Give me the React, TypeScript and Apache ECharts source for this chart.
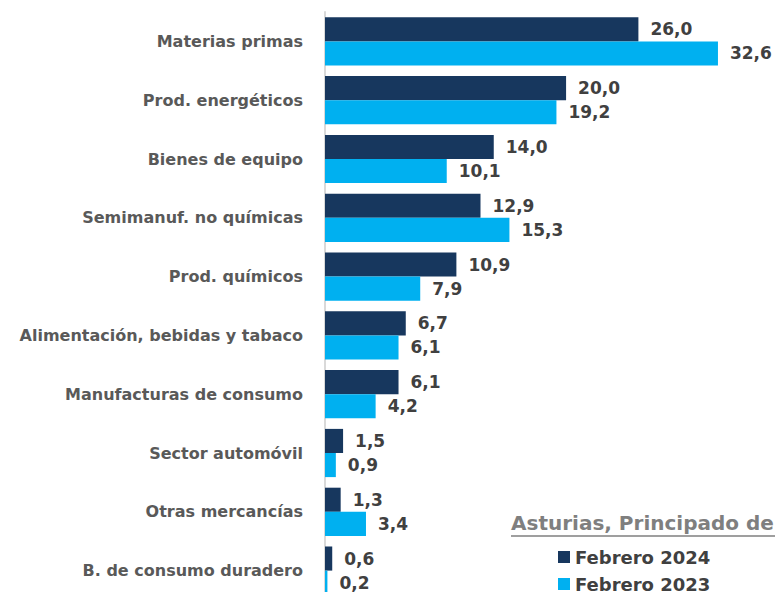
import React, { useEffect, useRef } from "react";
import * as echarts from "echarts";

const categories = [
  "Materias primas",
  "Prod. energéticos",
  "Bienes de equipo",
  "Semimanuf. no químicas",
  "Prod. químicos",
  "Alimentación, bebidas y tabaco",
  "Manufacturas de consumo",
  "Sector automóvil",
  "Otras mercancías",
  "B. de consumo duradero",
];
const feb2024 = [26.0, 20.0, 14.0, 12.9, 10.9, 6.7, 6.1, 1.5, 1.3, 0.6];
const feb2023 = [32.6, 19.2, 10.1, 15.3, 7.9, 6.1, 4.2, 0.9, 3.4, 0.2];
const seriesNames = ["Febrero 2024", "Febrero 2023"];
const legendTitle = "Asturias, Principado de";

const FONT = "'DejaVu Sans', sans-serif";

export default function App() {
  const ref = useRef<HTMLDivElement>(null);
  useEffect(() => {
    document.body.style.margin = "0";
    document.body.style.overflow = "hidden";
    const chart = echarts.init(ref.current!, null, { renderer: "svg" });
    const label = {
      show: true,
      position: "right",
      distance: 12,
      color: "#404040",
      fontFamily: FONT,
      fontWeight: "bold",
      fontSize: 17,
      formatter: (p: any) => p.value.toFixed(1).replace(".", ","),
    };
    const legendText = {
      color: "#404040",
      fontFamily: FONT,
      fontWeight: "bold",
      fontSize: 18,
    };
    chart.setOption({
      animation: false,
      grid: { left: 325, right: 8, top: 12, bottom: 0, containLabel: false },
      xAxis: {
        type: "value",
        min: 0,
        max: 37,
        show: false,
      },
      yAxis: {
        type: "category",
        inverse: true,
        data: categories,
        axisLine: { show: true, lineStyle: { color: "#d9d9d9", width: 2 } },
        axisTick: { show: false },
        axisLabel: {
          color: "#595959",
          fontFamily: FONT,
          fontWeight: "bold",
          fontSize: 16,
          margin: 22,
        },
      },
      legend: [
        {
          orient: "horizontal",
          left: 553,
          top: 543,
          itemWidth: 12,
          itemHeight: 12,
          icon: "rect",
          data: [seriesNames[0]],
          textStyle: legendText,
        },
        {
          orient: "horizontal",
          left: 553,
          top: 570,
          itemWidth: 12,
          itemHeight: 12,
          icon: "rect",
          data: [seriesNames[1]],
          textStyle: legendText,
        },
      ],
      graphic: [
        {
          type: "text",
          left: 511,
          top: 513,
          style: {
            text: legendTitle,
            fill: "#7f7f7f",
            font: `bold 20px ${FONT}`,
          },
        },
        {
          type: "line",
          shape: { x1: 511, y1: 536, x2: 775, y2: 536 },
          style: { stroke: "#7f7f7f", lineWidth: 1.5 },
        },
      ],
      series: [
        {
          name: seriesNames[0],
          type: "bar",
          data: feb2024,
          barGap: "0%",
          barCategoryGap: "18%",
          itemStyle: { color: "#17375e" },
          label,
        },
        {
          name: seriesNames[1],
          type: "bar",
          data: feb2023,
          barGap: "0%",
          barCategoryGap: "18%",
          itemStyle: { color: "#00b0f0" },
          label,
        },
      ],
    });
    return () => chart.dispose();
  }, []);
  return <div ref={ref} style={{ width: 779, height: 600 }} />;
}
